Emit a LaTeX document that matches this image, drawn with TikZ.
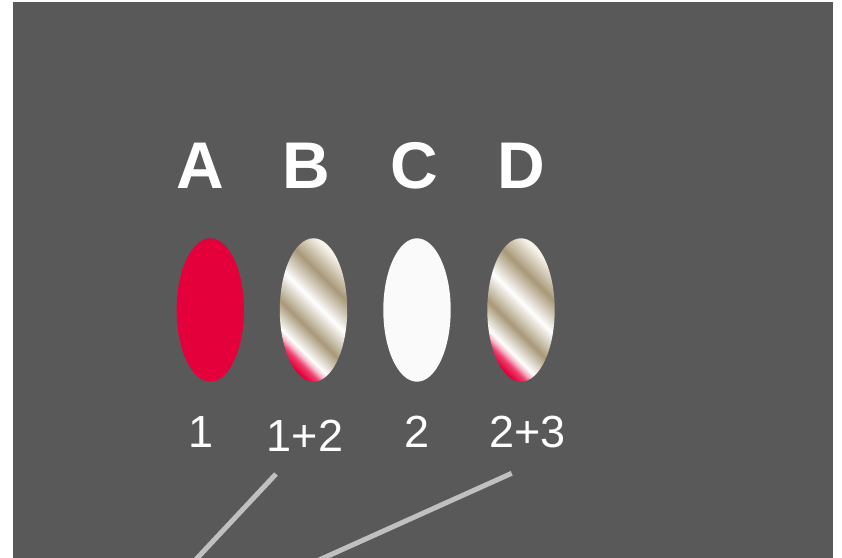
\documentclass[tikz,border=0pt]{standalone}
\usepackage{fontspec}
\setmainfont{Liberation Sans}
\usetikzlibrary{shapes.geometric}
\definecolor{bgray}{HTML}{595959}
\definecolor{redA}{HTML}{E4003A}
\definecolor{redB}{HTML}{EE3F6C}
\definecolor{pinkL}{HTML}{F8B4C6}
\definecolor{tanC}{HTML}{A89878}
\definecolor{creamC}{HTML}{F6F3EA}
\definecolor{lineC}{HTML}{C0C0C0}
\definecolor{whiteE}{HTML}{FAFAFA}
\pgfdeclarehorizontalshading{metal}{100bp}{color(0bp)=(redA); color(31.7bp)=(redA); color(34.3bp)=(redB); color(36bp)=(pinkL); color(37.7bp)=(white); color(44.3bp)=(tanC); color(52bp)=(white); color(60bp)=(tanC); color(67.7bp)=(creamC); color(100bp)=(tanC)}
\tikzset{
  x=1pt, y=1pt,
  ell/.style={ellipse, inner sep=0pt, minimum width=67.4pt, minimum height=143.4pt},
  redell/.style={ell, fill=redA},
  whiteell/.style={ell, fill=whiteE},
  metalell/.style={ell, path picture={\shade[shading=metal, shading angle=45] ([shift={(-75pt,-75pt)}]path picture bounding box.center) rectangle ([shift={(75pt,75pt)}]path picture bounding box.center);}},
  letter/.style={anchor=base, text=white, font=\fontsize{66}{70}\selectfont\bfseries, inner sep=0pt},
  num/.style={anchor=base, text=white, font=\fontsize{45}{50}\selectfont, inner sep=0pt},
  conn/.style={draw=lineC, line width=5pt}
}
\begin{document}
\begin{tikzpicture}
\clip (0,0) rectangle (842,557);
\fill[white] (0,0) rectangle (842,557);
\fill[bgray] (13,-5) rectangle (833,555);
% letters
\node[letter] (tA) at (200,368) {A};
\node[letter] (tB) at (306,368) {B};
\node[letter] (tC) at (414.5,368) {C};
\node[letter] (tD) at (521.5,368) {D};
% ellipses
\node[redell] (eA) at (210.3,247) {};
\node[metalell] (eB) at (313.5,247) {};
\node[whiteell] (eC) at (417,247) {};
\node[metalell] (eD) at (521,247) {};
% numbers
\node[num] (n1) at (201,110) {1};
\node[num] (n12) at (305,106) {1+2};
\node[num] (n2) at (417,110) {2};
\node[num] (n23) at (527.5,110) {2+3};
% connectors
\coordinate (c1a) at (276,83);
\coordinate (c1b) at (195.6,-2.8);
\coordinate (c2a) at (511.7,83.7);
\coordinate (c2b) at (319,-3);
\draw[conn] (c1a) -- (c1b);
\draw[conn] (c2a) -- (c2b);
\end{tikzpicture}
\end{document}
